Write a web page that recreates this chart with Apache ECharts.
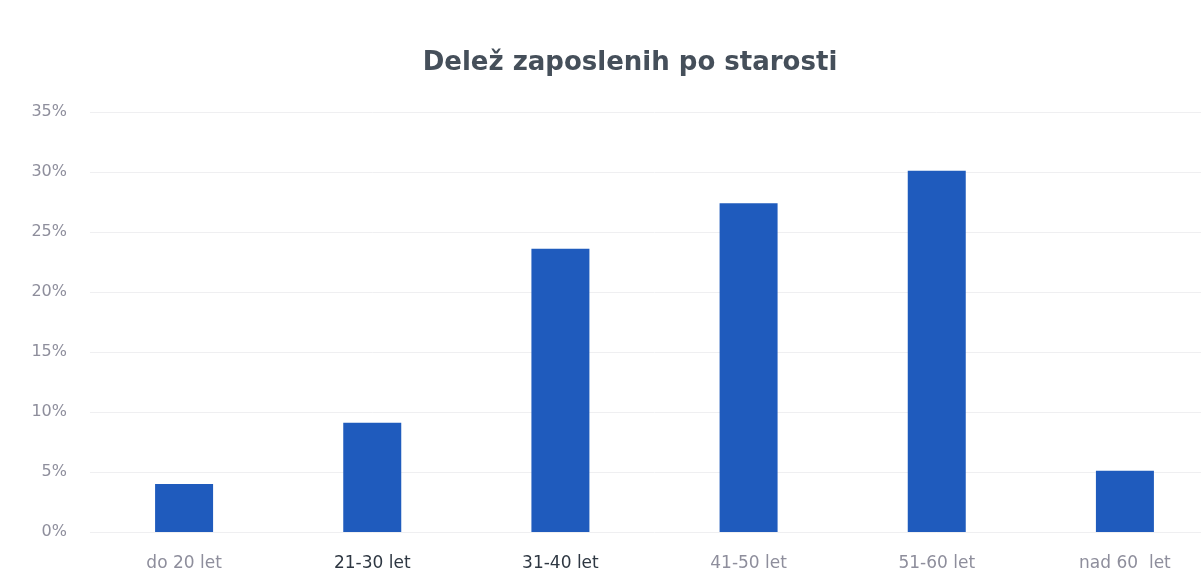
<!DOCTYPE html>
<html lang="sl">
<head>
    <meta charset="UTF-8">
    <title>Delež zaposlenih po starosti</title>
    <style>
        html, body { margin: 0; padding: 0; background: #fff; overflow: hidden; }
        /* graf je na desni odrezan, zato je platno sirse od okna */
        #chart { width: 1219px; height: 586px; }
    </style>
    <script src="https://cdn.jsdelivr.net/npm/echarts@6/dist/echarts.min.js"></script>
</head>
<body>
<div id="chart"></div>
<script>
    // podatki
    var kategorije = ["do 20 let", "21-30 let", "31-40 let", "41-50 let", "51-60 let", "nad 60  let"];
    var delezi = [4.0, 9.1, 23.6, 27.4, 30.1, 5.1];
    var temneOznake = ["21-30 let", "31-40 let"];

    var xData = [];
    for (var i = 0; i < kategorije.length; i++) {
        var temna = temneOznake.indexOf(kategorije[i]) >= 0;
        xData.push({ value: kategorije[i], textStyle: { color: temna ? "#2e3742" : "#8e8e9c" } });
    }

    var myChart = echarts.init(document.getElementById("chart"));
    var option = {
        animation: false,
        title: {
            text: "Delež zaposlenih po starosti",
            left: 625,
            textAlign: "center",
            top: 45,
            textStyle: {
                fontFamily: "DejaVu Sans",
                fontWeight: "bold",
                fontSize: 26,
                color: "#454f5a"
            }
        },
        grid: {
            left: 90,
            top: 112,
            right: 0,
            bottom: 54,
            containLabel: false
        },
        xAxis: {
            type: "category",
            data: xData,
            axisLine: { show: false },
            axisTick: { show: false },
            axisLabel: {
                margin: 23,
                fontFamily: "DejaVu Sans",
                fontSize: 17,
                color: "#8e8e9c"
            }
        },
        yAxis: {
            type: "value",
            min: 0,
            max: 35,
            interval: 5,
            axisLine: { show: false },
            axisTick: { show: false },
            splitLine: { lineStyle: { color: "#efeff1", width: 1 } },
            axisLabel: {
                margin: 23,
                fontFamily: "DejaVu Sans",
                fontSize: 16,
                color: "#8e8e9c",
                formatter: "{value}%"
            }
        },
        series: [
            {
                type: "bar",
                data: delezi,
                barWidth: 58,
                itemStyle: { color: "#1f5bbd" }
            }
        ]
    };
    myChart.setOption(option);
</script>
</body>
</html>
